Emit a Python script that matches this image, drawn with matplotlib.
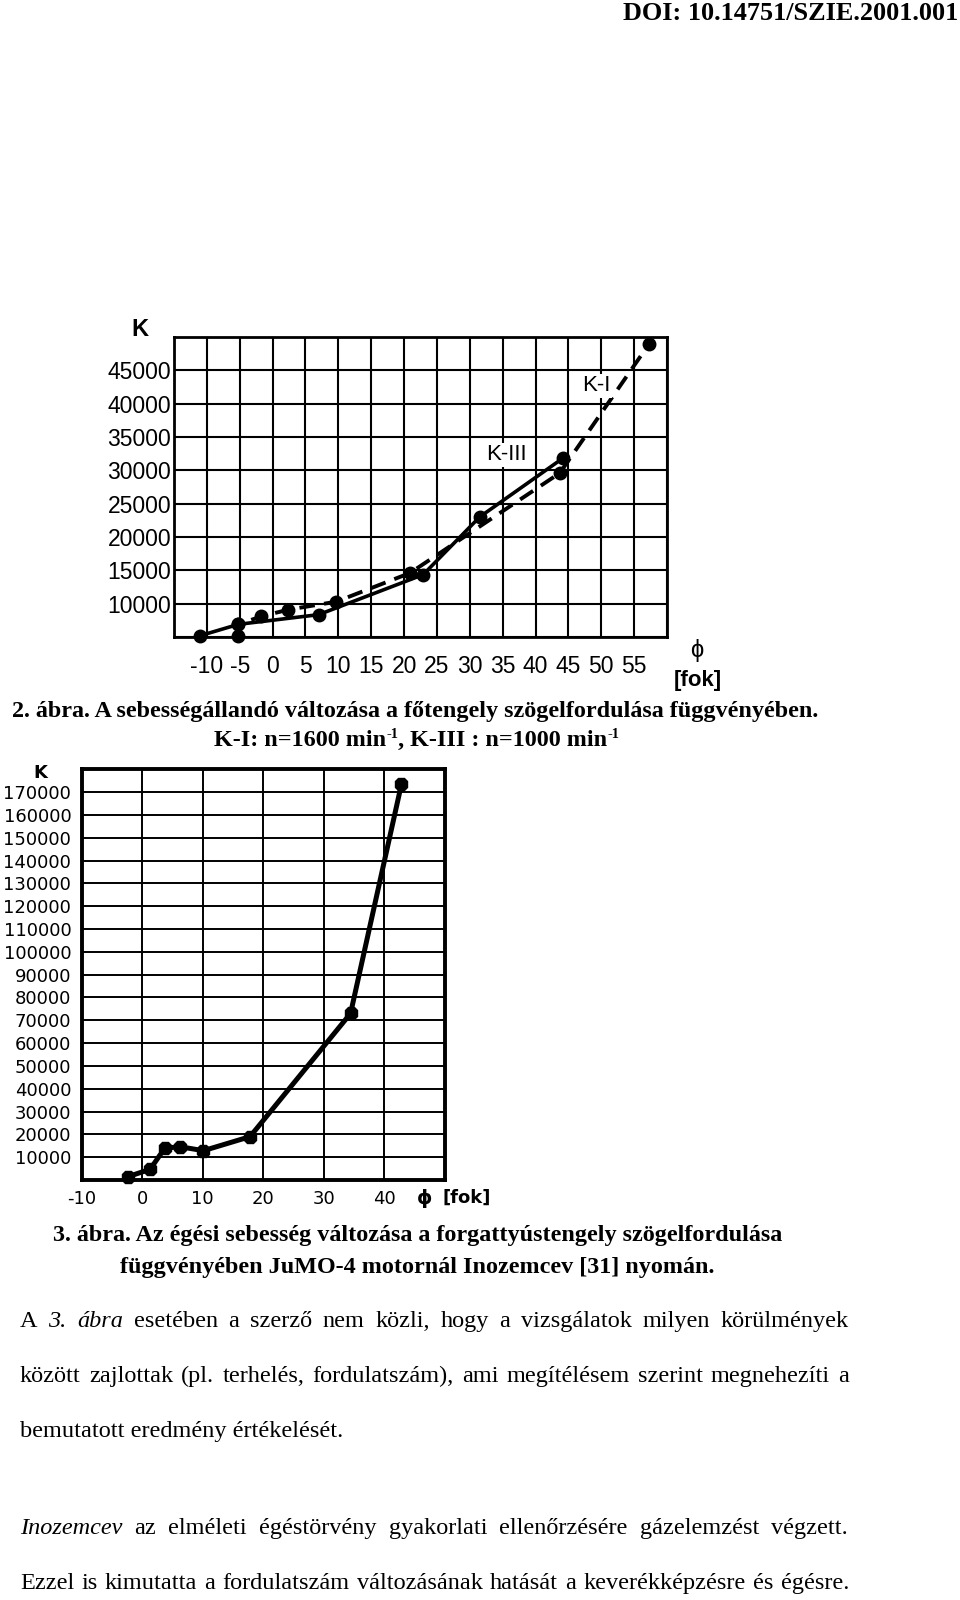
import matplotlib
matplotlib.use('Agg')
import matplotlib.pyplot as plt

plt.rcParams['axes.unicode_minus'] = False

# ---------------- data ----------------
# Figure 2 (top): speed constant K vs crank angle phi
k3_phi = [-11.0, -5.2, 7.0, 22.9, 31.5, 44.2]              # K-III, n=1000 (solid)
k3_K = [5200, 6900, 8350, 14350, 23000, 31850]
k1_phi = [-5.2, -5.2, -1.7, 2.4, 9.7, 20.9, 43.7, 57.3]    # K-I, n=1600 (dashed)
k1_K = [5200, 6900, 8100, 9100, 10300, 14600, 29600, 49000]
top_xticks = [-15, -10, -5, 0, 5, 10, 15, 20, 25, 30, 35, 40, 45, 50, 55, 60]
top_xlabels = ['', '-10', '-5', '0', '5', '10', '15', '20', '25', '30', '35',
               '40', '45', '50', '55', '']
top_yticks = [5000, 10000, 15000, 20000, 25000, 30000, 35000, 40000, 45000, 50000]
top_ylabels = ['', '10000', '15000', '20000', '25000', '30000', '35000',
               '40000', '45000', '']

# Figure 3 (bottom): combustion speed vs crank angle
b_phi = [-2.3, 1.3, 3.7, 6.2, 10.1, 17.8, 34.4, 42.8]
b_K = [1500, 4700, 13900, 14600, 12850, 19000, 73000, 173400]
bot_xticks = [-10, 0, 10, 20, 30, 40, 50]
bot_xlabels = ['-10', '0', '10', '20', '30', '40', '']
bot_yticks = [0, 10000, 20000, 30000, 40000, 50000, 60000, 70000, 80000, 90000,
              100000, 110000, 120000, 130000, 140000, 150000, 160000, 170000, 180000]
bot_ylabels = ['', '10000', '20000', '30000', '40000', '50000', '60000', '70000',
               '80000', '90000', '100000', '110000', '120000', '130000', '140000',
               '150000', '160000', '170000', '']

# ---------------- figure ----------------
W, H = 960, 1600
fig = plt.figure(figsize=(W / 100, H / 100), dpi=100)
R = fig.canvas.get_renderer()
SANS = ['Liberation Sans', 'DejaVu Sans']
SERIF = ['Liberation Serif', 'DejaVu Serif']


def px(x):
    return x / W


def py(y):
    return 1 - y / H


# ---- top chart ----
ax1 = fig.add_axes([174 / W, 1 - 637 / H, 493 / W, 300 / H])
ax1.set_xlim(-15, 60)
ax1.set_ylim(5000, 50000)
ax1.set_xticks(top_xticks, top_xlabels)
ax1.set_yticks(top_yticks, top_ylabels)
ax1.tick_params(length=0, labelsize=16.5, labelfontfamily='Liberation Sans')
ax1.tick_params(axis='x', pad=13)
ax1.tick_params(axis='y', pad=2)
ax1.grid(True, color='black', lw=1.5)
ax1.set_axisbelow(True)
for s in ax1.spines.values():
    s.set_linewidth(2.0)
ax1.plot(k3_phi, k3_K, '-', color='black', lw=2.6, marker='o', ms=9,
         clip_on=False, zorder=3)
ax1.plot(k1_phi, k1_K, color='black', lw=2.8, ls=(0, (4, 2.4)), marker='o',
         ms=9, clip_on=False, zorder=3)
ax1.text(35.6, 32350, 'K-III', fontsize=16, family=SANS, ha='center', va='center',
         bbox=dict(fc='white', ec='none', pad=1), zorder=4)
ax1.text(49.3, 42700, 'K-I', fontsize=16, family=SANS, ha='center', va='center',
         bbox=dict(fc='white', ec='none', pad=1), zorder=4)
fig.text(px(140), py(330), 'K', fontsize=17, weight='bold', family=SANS,
         ha='center', va='center')
fig.text(px(697), py(651), '\u03d5', fontsize=17, family=SANS, ha='center', va='center')
fig.text(px(698), py(680), '[fok]', fontsize=16, weight='bold', family=SANS,
         ha='center', va='center')

# ---- bottom chart ----
ax2 = fig.add_axes([81.7 / W, 1 - 1180 / H, 363.3 / W, 410.7 / H])
ax2.set_xlim(-10, 50)
ax2.set_ylim(0, 180000)
ax2.set_xticks(bot_xticks, bot_xlabels)
ax2.set_yticks(bot_yticks, bot_ylabels)
ax2.tick_params(length=0, labelsize=13, labelfontfamily='DejaVu Sans')
ax2.tick_params(axis='x', pad=7)
ax2.tick_params(axis='y', pad=7.5)
ax2.grid(True, color='black', lw=1.4)
ax2.set_axisbelow(True)
for s in ax2.spines.values():
    s.set_linewidth(2.8)
ax2.plot(b_phi, b_K, '-', color='black', lw=3.6, marker='8', ms=10,
         clip_on=False, zorder=3)
fig.text(px(40), py(773), 'K', fontsize=13, weight='bold', family='DejaVu Sans',
         ha='center', va='center')
fig.text(px(425), py(1198), '\u03d5', fontsize=14, weight='bold', family='DejaVu Sans',
         ha='center', va='center')
fig.text(px(467), py(1198), '[fok]', fontsize=13, weight='bold', family='DejaVu Sans',
         ha='center', va='center')


# ---------------- text helpers ----------------
def fit_text(s, x0, x1, y, weight='normal', style='normal', family=SERIF, size0=16,
             va='center'):
    t = fig.text(px(x0), py(y), s, fontsize=size0, weight=weight, style=style,
                 family=family, ha='left', va=va)
    w = t.get_window_extent(R).width
    t.set_fontsize(size0 * (x1 - x0) / w)
    return t.get_fontsize()


def justify(words, x0, x1, y, size, family=SERIF):
    objs, widths = [], []
    for wd, st in words:
        o = fig.text(0, py(y), wd, fontsize=size, style=st, family=family,
                     ha='left', va='baseline')
        objs.append(o)
        widths.append(o.get_window_extent(R).width)
    gap = (x1 - x0 - sum(widths)) / (len(words) - 1)
    x = x0
    for o, w in zip(objs, widths):
        o.set_x(px(x))
        x += w + gap


def runs(parts, x0, y, size, weight='bold', family=SERIF):
    x = x0
    for s, rel, dy in parts:
        o = fig.text(px(x), py(y - dy), s, fontsize=size * rel, weight=weight,
                     family=family, ha='left', va='baseline')
        x += o.get_window_extent(R).width


# DOI header
fit_text('DOI: 10.14751/SZIE.2001.001', 623, 959, 14, weight='bold')

# caption 2
cs = fit_text('2. ábra. A sebességállandó változása a főtengely szögelfordulása függvényében.',
              12, 822, 711, weight='bold')
runs([('K-I: n=1600 min', 1, 0), ('-1', 0.6, 8), (', K-III : n=1000 min', 1, 0),
      ('-1', 0.6, 8)], 214, 746, cs)

# caption 3
cs3 = fit_text('3. ábra. Az égési sebesség változása a forgattyústengely szögelfordulása',
               53, 784, 1236, weight='bold')
fig.text(px(120), py(1267), 'függvényében JuMO-4 motornál Inozemcev [31] nyomán.',
         fontsize=cs3, weight='bold', family=SERIF, ha='left', va='center')

# body text (baselines)
bs = fit_text('bemutatott eredmény értékelését.', 20, 340, 1437, va='baseline')


def words_of(s, italic_idx=()):
    return [(w, 'italic' if i in italic_idx else 'normal') for i, w in enumerate(s.split())]


justify(words_of('A 3. ábra esetében a szerző nem közli, hogy a vizsgálatok milyen körülmények',
                 (1, 2)), 20, 849, 1327, bs)
justify(words_of('között zajlottak (pl. terhelés, fordulatszám), ami megítélésem szerint megnehezíti a'),
        20, 849, 1382, bs)
justify(words_of('Inozemcev az elméleti égéstörvény gyakorlati ellenőrzésére gázelemzést végzett.',
                 (0,)), 20, 848, 1534, bs)
justify(words_of('Ezzel is kimutatta a fordulatszám változásának hatását a keverékképzésre és égésre.'),
        20, 849, 1589, bs)

fig.savefig('out.png', dpi=100)
